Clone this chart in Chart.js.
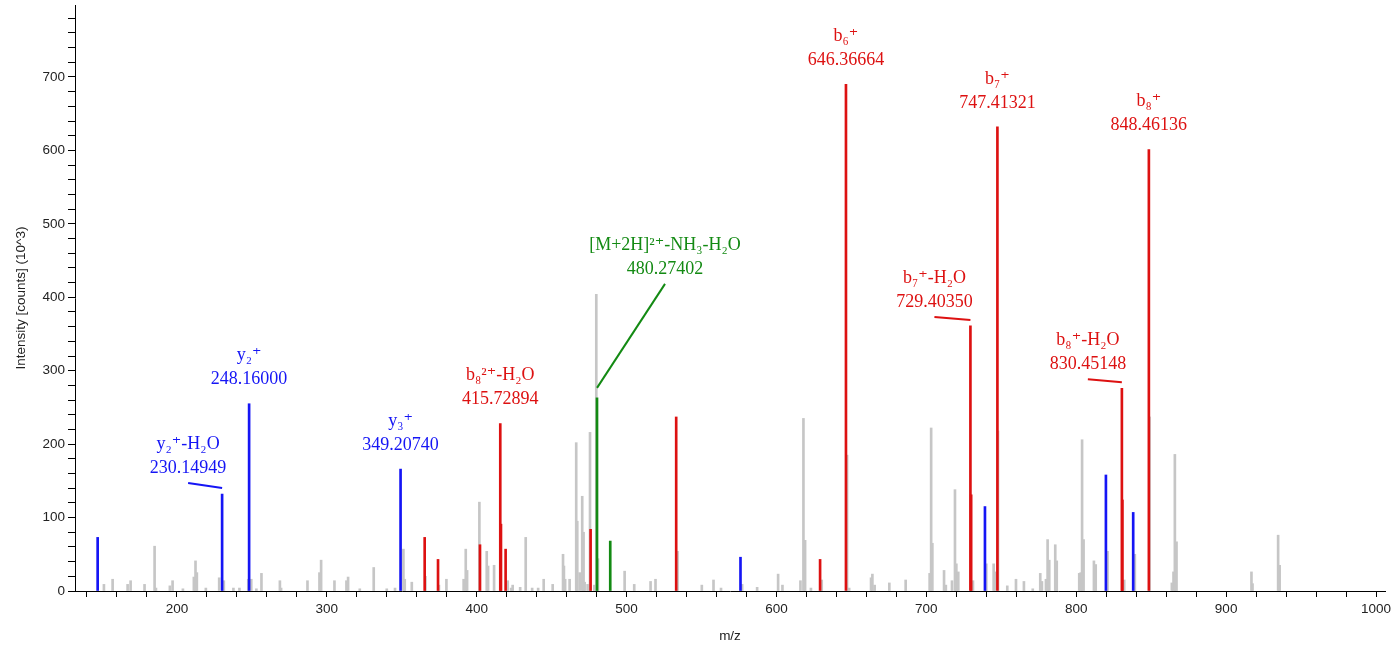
<!DOCTYPE html>
<html>
<head>
<meta charset="utf-8">
<script src="https://cdn.jsdelivr.net/npm/chart.js@4.4.1/dist/chart.umd.min.js"></script>
<style>
  html, body { margin: 0; padding: 0; background: #fff; }
</style>
</head>
<body>
<canvas id="spectrum" width="1397" height="648"></canvas>
<script>
// unassigned peaks (grey)
const greyMz = [151.3, 157.1, 167.1, 169.1, 178.4, 185.1, 186.0, 195.3, 197.1, 204.0,
  211.3, 212.4, 213.3, 219.3, 228.2, 231.3, 237.7, 241.7, 247.6, 249.6,
  253.0, 256.4, 268.7, 269.5, 287.1, 295.1, 296.2, 305.1, 313.1, 314.2,
  322.0, 331.3, 340.0, 345.5, 351.1, 352.0, 356.7, 365.8, 374.8, 379.8,
  391.3, 392.7, 393.6, 401.8, 406.7, 407.6, 411.6, 420.7, 423.0, 424.0,
  429.0, 432.7, 437.0, 441.0, 444.7, 450.7, 457.6, 458.2, 459.0, 462.0,
  466.4, 467.1, 468.7, 470.4, 471.3, 472.0, 474.0, 475.6, 478.5, 479.8,
  480.9, 498.7, 505.1, 516.0, 519.3, 534.0, 550.2, 558.0, 563.0, 577.1,
  587.1, 601.1, 604.0, 616.0, 618.0, 619.1, 623.0, 630.2, 647.1, 648.5,
  663.1, 664.0, 665.5, 675.3, 686.2, 702.2, 703.2, 704.0, 711.8, 713.0,
  717.1, 719.1, 720.0, 721.3, 731.1, 740.0, 744.9, 745.6, 747.8, 754.0,
  759.8, 765.1, 771.0, 776.0, 777.1, 779.8, 780.9, 782.0, 786.0, 787.0,
  802.0, 803.0, 803.9, 804.9, 811.8, 813.0, 820.9, 832.0, 839.1, 848.9,
  863.8, 864.9, 865.8, 866.9, 916.9, 917.6, 934.7, 935.7];
const greyInt = [9, 16, 9, 14, 9, 61, 4, 7, 14, 3,
  19, 41, 25, 4, 18, 14, 4, 4, 16, 16,
  3, 24, 14, 4, 14, 25, 42, 14, 14, 19,
  3, 32, 3, 4, 57, 16, 12, 20, 8, 16,
  16, 57, 28, 121, 54, 34, 35, 14, 4, 8,
  5, 73, 4, 4, 16, 9, 50, 34, 16, 16,
  202, 95, 25, 129, 80, 12, 9, 216, 8, 404,
  44, 27, 9, 13, 16, 54, 8, 15, 4, 9,
  5, 23, 8, 14, 235, 69, 4, 15, 185, 4,
  18, 23, 8, 11, 15, 24, 222, 65, 28, 8,
  14, 138, 37, 26, 14, 37, 37, 26, 218, 7,
  16, 13, 3, 24, 13, 16, 70, 42, 63, 41,
  24, 25, 206, 70, 41, 36, 54, 15, 50, 237,
  11, 26, 186, 67, 26, 10, 76, 35];

// y ions (blue)
const yIonMz = [147.11, 230.15, 248.16, 349.21, 576.0, 739.1, 819.8, 838.0];
const yIonInt = [73, 132, 255, 166, 46, 115, 158, 107];

// b ions (red)
const bIonMz = [365.3, 374.2, 402.2, 415.73, 416.2, 419.3, 476.0, 533.1, 629.1, 646.37,
  729.40, 729.9, 747.41, 830.45, 830.8, 848.46];
const bIonInt = [73, 43, 63, 228, 91, 57, 84, 237, 43, 690, 361, 131, 632, 276, 124, 601];

// precursor related (green)
const precMz = [480.27, 489.1];
const precInt = [263, 68];

// annotated peaks
const annIon = ['y₂⁺-H₂O', 'y₂⁺', 'y₃⁺', 'b₈²⁺-H₂O', '[M+2H]²⁺-NH₃-H₂O',
  'b₆⁺', 'b₇⁺-H₂O', 'b₇⁺', 'b₈⁺-H₂O', 'b₈⁺'];
const annMz = [230.14949, 248.16000, 349.20740, 415.72894, 480.27402,
  646.36664, 729.40350, 747.41321, 830.45148, 848.46136];
const annInt = [132, 255, 166, 228, 263, 690, 361, 632, 276, 601];
const annSeries = ['y', 'y', 'y', 'b', 'M', 'b', 'b', 'b', 'b', 'b'];

// axis ranges
const mzMin = 132, mzMax = 1006, mzStep = 20;
const intMax = 798, intStep = 20;

// label placement relative to the peak top (pixels)
const annLayout = [
  { dx: -34, dy: 26, leader: 6 },
  { dx: 0, dy: 24 },
  { dx: 0, dy: 24 },
  { dx: 0, dy: 24 },
  { dx: 68, dy: 129, leader: 10 },
  { dx: 0, dy: 24 },
  { dx: -36, dy: 24, leader: 6 },
  { dx: 0, dy: 24 },
  { dx: -34, dy: 24, leader: 6 },
  { dx: 0, dy: 24 }
];

const colors = { y: '#1515f5', b: '#dd1111', M: '#138a13', grey: '#c6c6c6' };

function toPoints(xs, ys) {
  return xs.map((v, i) => ({ x: v, y: ys[i] }));
}

function stepTicks(from, to, step) {
  const out = [];
  for (let v = Math.ceil(from / step) * step; v <= to; v += step) out.push({ value: v });
  return out;
}

const peakLabels = {
  id: 'peakLabels',
  afterDatasetsDraw(chart) {
    const ctx = chart.ctx;
    const xs = chart.scales.x;
    const ys = chart.scales.y;
    ctx.save();
    ctx.font = '18px "Liberation Serif", "DejaVu Serif", serif';
    ctx.textAlign = 'center';
    ctx.textBaseline = 'middle';
    annIon.forEach((ion, i) => {
      const px = xs.getPixelForValue(annMz[i]);
      const top = ys.getPixelForValue(annInt[i]);
      const lay = annLayout[i];
      const lx = px + lay.dx;
      const ly = top - lay.dy;
      const c = colors[annSeries[i]];
      ctx.fillStyle = c;
      ctx.fillText(ion, lx, ly - 24);
      ctx.fillText(annMz[i].toFixed(5), lx, ly);
      if (lay.leader) {
        ctx.strokeStyle = c;
        ctx.lineWidth = 2;
        ctx.beginPath();
        ctx.moveTo(lx, ly + 15);
        ctx.lineTo(px, top - lay.leader);
        ctx.stroke();
      }
    });
    ctx.restore();
  }
};

function peakSet(xs, ys, color, order) {
  return {
    data: toPoints(xs, ys),
    backgroundColor: color,
    borderWidth: 0,
    barThickness: 2,
    grouped: false,
    order: order
  };
}

const tickFont = { family: '"Liberation Sans", Arial, sans-serif', size: 13.5 };

new Chart(document.getElementById('spectrum'), {
  type: 'bar',
  data: {
    datasets: [
      peakSet(precMz, precInt, colors.M, 1),
      peakSet(bIonMz, bIonInt, colors.b, 2),
      peakSet(yIonMz, yIonInt, colors.y, 3),
      peakSet(greyMz, greyInt, colors.grey, 10)
    ]
  },
  options: {
    responsive: false,
    animation: false,
    devicePixelRatio: 1,
    layout: { padding: { top: 5, right: 12, left: 6, bottom: 0 } },
    plugins: {
      legend: { display: false },
      tooltip: { enabled: false }
    },
    scales: {
      x: {
        type: 'linear',
        min: mzMin,
        max: mzMax,
        offset: false,
        afterBuildTicks: (scale) => { scale.ticks = stepTicks(mzMin, mzMax, mzStep); },
        afterFit: (scale) => { scale.height = 57; },
        border: { color: '#000', width: 1 },
        grid: { offset: false, drawOnChartArea: false, tickLength: 6, tickColor: '#000' },
        ticks: {
          autoSkip: false,
          maxRotation: 0,
          padding: 4,
          color: '#222',
          font: tickFont,
          callback: (v) => v % 100 === 0 ? v : ''
        },
        title: { display: true, text: 'm/z', color: '#222', font: tickFont, padding: { top: 2, bottom: 4 } }
      },
      y: {
        min: 0,
        max: intMax,
        afterBuildTicks: (scale) => { scale.ticks = stepTicks(0, intMax, intStep); },
        afterFit: (scale) => { scale.width = 69; scale.paddingTop = 0; },
        border: { color: '#000', width: 1 },
        grid: { drawOnChartArea: false, tickLength: 7, tickColor: '#000' },
        ticks: {
          autoSkip: false,
          padding: 3,
          color: '#222',
          font: tickFont,
          callback: (v) => v % 100 === 0 ? v : ''
        },
        title: { display: true, text: 'Intensity [counts] (10^3)', color: '#222', font: tickFont, padding: { top: 7, bottom: 0 } }
      }
    }
  },
  plugins: [peakLabels]
});
</script>
</body>
</html>
